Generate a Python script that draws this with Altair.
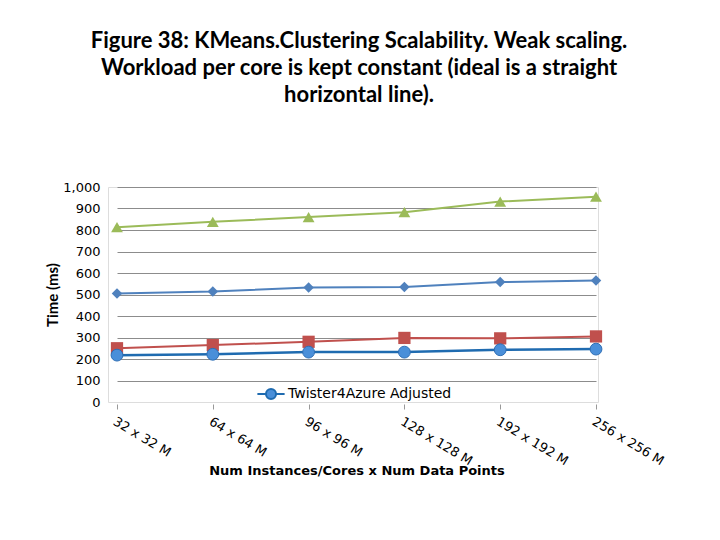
import altair as alt
import pandas as pd

categories = ["32 x 32 M", "64 x 64 M", "96 x 96 M", "128 x 128 M", "192 x 192 M", "256 x 256 M"]
hadoop_bare_metal = [813, 838, 860, 883, 932, 955]
twister4azure = [505, 514, 533, 535, 558, 565]
twister_bare_metal = [250, 265, 280, 298, 296, 305]
twister4azure_adjusted = [218, 222, 232, 232, 243, 246]

series_names = ["Hadoop Bare Metal", "Twister4Azure", "Twister Bare Metal", "Twister4Azure Adjusted"]
series_values = [hadoop_bare_metal, twister4azure, twister_bare_metal, twister4azure_adjusted]

rows = []
for name, vals in zip(series_names, series_values):
    for c, v in zip(categories, vals):
        rows.append({"series": name, "config": c, "time": v})
df = pd.DataFrame(rows)

W, H = 490, 215

x_enc = alt.X(
    "config:N",
    sort=categories,
    scale=alt.Scale(type="point", range=[9, 488], padding=0),
    axis=alt.Axis(
        title="Num Instances/Cores x Num Data Points",
        titleFont="DejaVu Sans", titleFontSize=13, titleFontWeight="bold", titleColor="#000000",
        titleY=60, titleBaseline="top",
        labelFont="DejaVu Sans", labelFontSize=13, labelColor="#000000",
        labelAngle=31, labelAlign="left", labelBaseline="top", labelPadding=6,
        domain=False, ticks=True, tickSize=5, tickColor="#999999",
        grid=False, offset=2,
    ),
)
y_enc = alt.Y(
    "time:Q",
    scale=alt.Scale(domain=[0, 1000], nice=False),
    axis=alt.Axis(
        title="Time (ms)", titleFont="Lato", titleFontSize=15, titleFontWeight="bold",
        titleColor="#000000", titlePadding=2,
        values=list(range(0, 1001, 100)), format=",.0f",
        labelFont="DejaVu Sans", labelFontSize=13, labelColor="#000000", labelPadding=8,
        domain=False, ticks=False,
        grid=True, gridColor="#8c8c8c", gridWidth=1,
        gridOpacity=alt.condition("datum.value == 0", alt.value(0), alt.value(1)),
    ),
)

base = alt.Chart(df).encode(x=x_enc, y=y_enc)

def layer(name, line_color, point_color, shape, size, stroke_w=2):
    d = base.transform_filter(alt.datum.series == name)
    ln = d.mark_line(color=line_color, strokeWidth=stroke_w)
    pt = d.mark_point(shape=shape, filled=True, size=size, color=point_color, opacity=1)
    return ln, pt

g_l, g_p = layer("Hadoop Bare Metal", "#9BBB59", "#9BBB59", "triangle-up", 140)
b_l, b_p = layer("Twister4Azure", "#4F81BD", "#4F81BD", "diamond", 110)
r_l, r_p = layer("Twister Bare Metal", "#C0504D", "#C0504D", "square", 150)

adj = base.transform_filter(alt.datum.series == "Twister4Azure Adjusted")
adj_line = adj.mark_line(strokeWidth=2.5).encode(
    color=alt.Color(
        "series:N",
        scale=alt.Scale(domain=["Twister4Azure Adjusted"], range=["#1F6BB0"]),
        legend=alt.Legend(
            title=None, orient="none", legendX=156, legendY=200,
            symbolType="M-2.3,0H-0.85M0.85,0H2.3M0.85,0A0.85,0.85,0,1,1,-0.85,0A0.85,0.85,0,1,1,0.85,0Z",
            symbolSize=140, symbolStrokeWidth=2, symbolFillColor="#4A8FD9",
            symbolStrokeColor="#1F6BB0",
            labelFont="DejaVu Sans", labelFontSize=14, labelColor="#000000", labelOffset=10,
            labelLimit=0,
        ),
    )
)
adj_pt = adj.mark_point(shape="circle", filled=True, size=140, color="#4A8FD9", opacity=1,
                        stroke="#2F6FB5", strokeWidth=1)

chart = alt.layer(
    g_l, b_l, r_l, adj_line, g_p, b_p, r_p, adj_pt
).properties(
    width=W, height=H,
    title=alt.Title(
        text=["Figure 38: KMeans.Clustering Scalability. Weak scaling.",
              "Workload per core is kept constant (ideal is a straight",
              "horizontal line)."],
        font="Lato", fontSize=22, fontWeight="bold", color="#000000",
        anchor="middle", lineHeight=27, offset=74, dx=6, limit=0,
    ),
    autosize=alt.AutoSizeParams(type="none"),
    padding={"left": 108, "top": 187, "right": 122, "bottom": 138},
).configure_view(stroke=None).configure(background="#ffffff")

chart.save("out.html", embed_options={"renderer": "svg", "actions": False})
